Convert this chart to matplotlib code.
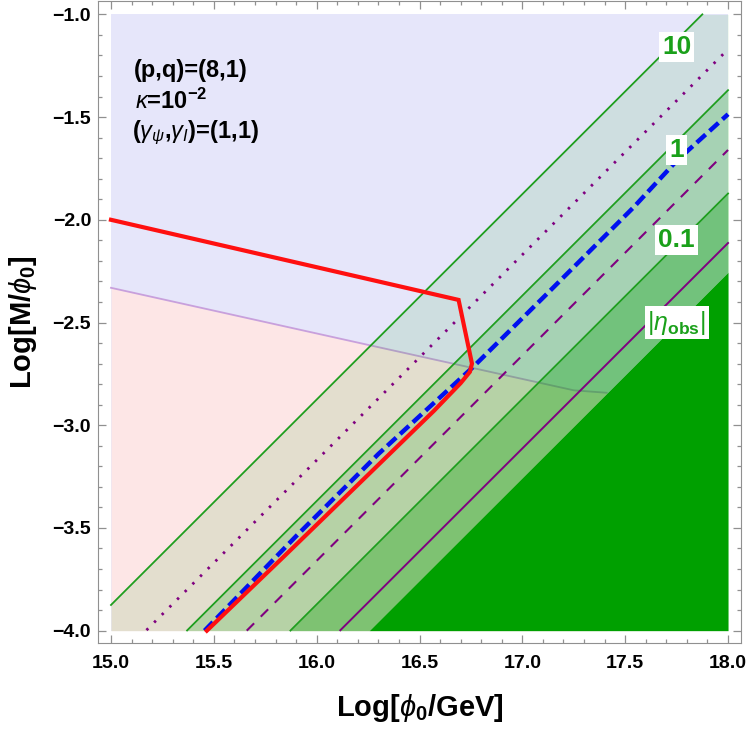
import numpy as np
import matplotlib
matplotlib.use("Agg")
import matplotlib.pyplot as plt
from matplotlib.ticker import MultipleLocator

plt.rcParams["font.family"] = ["Liberation Sans", "DejaVu Sans"]
plt.rcParams["mathtext.fontset"] = "custom"
plt.rcParams["mathtext.rm"] = "Liberation Sans"
plt.rcParams["mathtext.it"] = "Liberation Sans:italic"
plt.rcParams["mathtext.bf"] = "Liberation Sans:bold"

# contour lines are straight with slope 1: y = x - offset
contour_labels = ["10", "1", "0.1"]
contour_offsets = [18.875, 19.369, 19.872]
dotted_offset = 19.17
dashed_offset = 19.66
eta_offset = 20.113
dark_offset = 20.255
band_alphas = [0.10, 0.28, 0.50]

# boundary of the pink region (light purple line)
bound_x = [15.0, 16.3, 17.25, 17.41]
bound_y = [-2.331, -2.62, -2.83, -2.842]

# red curve
red_x = [15.0, 16.69, 16.755, 16.745, 16.70, 16.57, 16.2, 15.85, 15.466]
red_y = [-2.0, -2.39, -2.70, -2.74, -2.795, -2.93, -3.29, -3.63, -4.0]

# blue dashed curve
blue_x = [15.455, 15.9, 16.3, 16.76, 17.12, 17.35, 17.54, 17.75, 18.0]
blue_y = [-4.0, -3.54, -3.14, -2.717, -2.36, -2.13, -1.94, -1.713, -1.486]

label_x = 17.75
label_y = [-1.16, -1.66, -2.10]
eta_label_y = -2.50

xs = np.linspace(15, 18, 1201)


def diag(off):
    return np.clip(xs - off, -4, -1)


fig = plt.figure(figsize=(7.5, 7.3), dpi=100)
ax = fig.add_axes([0.1307, 0.1192, 0.8573, 0.8794])
ax.set_xlim(14.937, 18.063)
ax.set_ylim(-4.06, -0.935)

# backgrounds
ax.fill_between([15, 18], -4, -1, color="#E6E6FA", lw=0, zorder=0)
ax.fill_between(bound_x, -4, bound_y, color="#FDE6E6", lw=0, zorder=0.5)
ax.plot(bound_x, bound_y, color="#C8A0DC", lw=1.3, zorder=0.8)

# green bands
offs = contour_offsets + [dark_offset]
for i, a in enumerate(band_alphas):
    ax.fill_between(xs, diag(offs[i + 1]), diag(offs[i]), color="#00A000",
                    alpha=a, lw=0, zorder=1)
ax.fill_between(xs, -4, diag(dark_offset), color="#00A000", lw=0, zorder=1.5)

# lines
for off in contour_offsets:
    m = (xs - off >= -4) & (xs - off <= -1)
    ax.plot(xs[m], xs[m] - off, color="#1E9E1E", lw=1.3, zorder=2)
m = (xs - dotted_offset >= -4) & (xs - dotted_offset <= -1)
ax.plot(xs[m], xs[m] - dotted_offset, color="#800080", lw=2.0,
        dashes=(0.9, 3.0), zorder=2)
m = (xs - dashed_offset >= -4) & (xs - dashed_offset <= -1)
ax.plot(xs[m], xs[m] - dashed_offset, color="#800080", lw=1.5,
        dashes=(5, 4.5), zorder=2)
m = (xs - eta_offset >= -4) & (xs - eta_offset <= -1)
ax.plot(xs[m], xs[m] - eta_offset, color="#800080", lw=1.4, zorder=2)

ax.plot(blue_x, blue_y, color="#0010F0", lw=3.2, dashes=(2.7, 1.2), zorder=3)
ax.plot(red_x, red_y, color="#FF1010", lw=3.0, zorder=3.5,
        solid_joinstyle="miter")

# contour labels
box = dict(facecolor="white", edgecolor="none", pad=2)
for lab, ly in zip(contour_labels, label_y):
    ax.text(label_x, ly, lab, color="#1AA01A", fontsize=19, fontweight="bold",
            ha="center", va="center", bbox=box, zorder=5)
ax.text(label_x, eta_label_y, r"$|\eta_{\mathbf{obs}}|$", color="#1AA01A",
        fontsize=18, ha="center", va="center", bbox=box, zorder=5)

# parameter text
ax.text(15.11, -1.271, "(p,q)=(8,1)", fontsize=17, fontweight="bold",
        ha="left", va="center")
ax.text(15.115, -1.425, r"$\kappa$=10$^{\mathbf{-2}}$", fontsize=17,
        fontweight="bold", ha="left", va="center")
ax.text(15.10, -1.575, r"($\gamma_\psi$,$\gamma_I$)=(1,1)", fontsize=17,
        fontweight="bold", ha="left", va="center")

# axes styling
ax.xaxis.set_major_locator(MultipleLocator(0.5))
ax.xaxis.set_minor_locator(MultipleLocator(0.1))
ax.yaxis.set_major_locator(MultipleLocator(0.5))
ax.yaxis.set_minor_locator(MultipleLocator(0.1))
ax.xaxis.set_major_formatter(lambda v, p: f"{v:.1f}".replace("-", "\u2212"))
ax.yaxis.set_major_formatter(lambda v, p: f"{v:.1f}".replace("-", "\u2212"))
ax.tick_params(which="both", direction="in", top=True, right=True,
               color="#909090", width=0.9)
ax.tick_params(which="major", length=6, labelsize=14)
ax.tick_params(axis="y", which="major", pad=5)
ax.tick_params(axis="x", which="major", pad=9)
ax.tick_params(which="minor", length=3)
for lbl in ax.get_xticklabels() + ax.get_yticklabels():
    lbl.set_fontweight("bold")
for s in ax.spines.values():
    s.set_color("#909090")

ax.set_xlabel(r"Log[$\phi_{\mathbf{0}}$/GeV]", fontsize=21, fontweight="bold",
              labelpad=14)
ax.set_ylabel(r"Log[M/$\phi_{\mathbf{0}}$]", fontsize=21, fontweight="bold",
              labelpad=10)

fig.savefig("out.png", dpi=100)
